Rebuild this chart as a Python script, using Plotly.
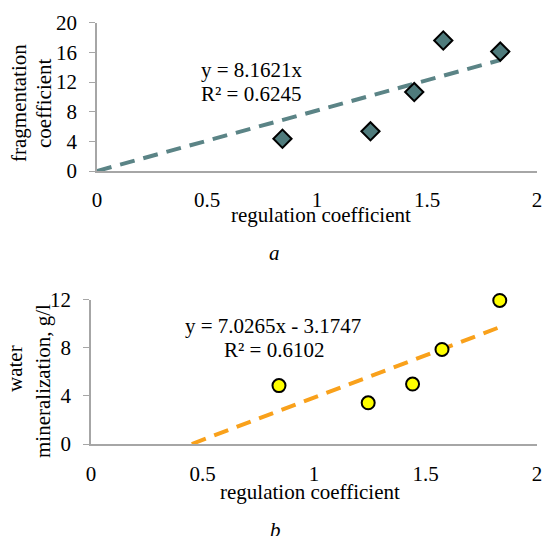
import plotly.graph_objects as go

W, H = 543, 536

# ---- data ----
reg_coef = [0.843, 1.243, 1.442, 1.574, 1.833]
frag_coef = [4.35, 5.35, 10.65, 17.6, 16.1]
mineral = [4.85, 3.42, 4.98, 7.85, 11.92]

slope_a = 8.1621
r2_a = 0.6245
slope_b = 7.0265
icpt_b = -3.1747
r2_b = 0.6102

x_ticks = [0, 0.5, 1, 1.5, 2]
x_ticklabels = ["0", "0.5", "1", "1.5", "2"]
ya_ticks = [0, 4, 8, 12, 16, 20]
yb_ticks = [0, 4, 8, 12]

FONT = "Liberation Serif, Times New Roman, serif"
FS = 21
AXC = "#A6A6A6"
TEAL = "#4F7B7C"
TEAL_LINE = "#5B8486"
ORANGE = "#F9A11B"


def px(x):
    return x / W


def py(y):
    return 1 - y / H


fig = go.Figure()

# trend lines
xa_max = max(reg_coef)
fig.add_trace(go.Scatter(
    x=[0, xa_max], y=[0, slope_a * xa_max], mode="lines",
    line=dict(color=TEAL_LINE, width=4, dash="15px,9px"),
    xaxis="x", yaxis="y", showlegend=False, hoverinfo="skip", cliponaxis=False))
fig.add_trace(go.Scatter(
    x=reg_coef, y=frag_coef, mode="markers",
    marker=dict(symbol="diamond", size=14, color=TEAL,
                line=dict(color="black", width=2)),
    xaxis="x", yaxis="y", showlegend=False, cliponaxis=False))

x0b = -icpt_b / slope_b
fig.add_trace(go.Scatter(
    x=[x0b, xa_max], y=[0, slope_b * xa_max + icpt_b], mode="lines",
    line=dict(color=ORANGE, width=4, dash="15px,9px"),
    xaxis="x2", yaxis="y2", showlegend=False, hoverinfo="skip", cliponaxis=False))
fig.add_trace(go.Scatter(
    x=reg_coef, y=mineral, mode="markers",
    marker=dict(symbol="circle", size=13, color="#FFFF00",
                line=dict(color="black", width=2)),
    xaxis="x2", yaxis="y2", showlegend=False, cliponaxis=False))

axis_common = dict(
    showgrid=False, zeroline=False, showline=True, linecolor=AXC, linewidth=1.5,
    tickfont=dict(family=FONT, size=FS, color="black"), automargin=False,
)

fig.update_layout(
    width=W, height=H, margin=dict(l=0, r=0, t=0, b=0, autoexpand=False),
    paper_bgcolor="white", plot_bgcolor="white",
    font=dict(family=FONT, size=FS, color="black"),
    xaxis=dict(domain=[px(97), px(537)], range=[0, 2], tickvals=x_ticks,
               ticktext=x_ticklabels, ticks="", ticklabelstandoff=9,
               anchor="y", **axis_common),
    yaxis=dict(domain=[py(171), py(22.7)], range=[0, 20], tickvals=ya_ticks,
               ticks="outside", ticklen=6, tickcolor=AXC, ticklabelstandoff=8,
               anchor="x", **axis_common),
    xaxis2=dict(domain=[px(91), px(537)], range=[0, 2], tickvals=x_ticks,
                ticktext=x_ticklabels, ticks="", ticklabelstandoff=10,
                anchor="y2", **axis_common),
    yaxis2=dict(domain=[py(444), py(299.5)], range=[0, 12], tickvals=yb_ticks,
                ticks="outside", ticklen=6, tickcolor=AXC, ticklabelstandoff=8,
                anchor="x2", **axis_common),
)

ann = []
# equations
ann.append(dict(xref="x", yref="y", x=0.464, y=13.6, xanchor="left", yanchor="middle",
                text=f"y = {slope_a:.4f}x", showarrow=False))
ann.append(dict(xref="x", yref="y", x=0.464, y=10.4, xanchor="left", yanchor="middle",
                text=f"R² = {r2_a:.4f}", showarrow=False))
ann.append(dict(xref="x2", yref="y2", x=0.816, y=9.78, xanchor="center", yanchor="middle",
                text=f"y = {slope_b:.4f}x - {abs(icpt_b):.4f}", showarrow=False))
ann.append(dict(xref="x2", yref="y2", x=0.82, y=7.83, xanchor="center", yanchor="middle",
                text=f"R² = {r2_b:.4f}", showarrow=False))
# axis titles
ann.append(dict(xref="paper", yref="paper", x=px(320.7), y=py(215), text="regulation coefficient",
                showarrow=False, xanchor="center", yanchor="middle"))
ann.append(dict(xref="paper", yref="paper", x=px(309.6), y=py(491.7), text="regulation coefficient",
                showarrow=False, xanchor="center", yanchor="middle"))
ann.append(dict(xref="paper", yref="paper", x=px(19), y=py(103), text="fragmentation",
                textangle=-90, showarrow=False, xanchor="center", yanchor="middle"))
ann.append(dict(xref="paper", yref="paper", x=px(44), y=py(103), text="coefficient",
                textangle=-90, showarrow=False, xanchor="center", yanchor="middle"))
ann.append(dict(xref="paper", yref="paper", x=px(15), y=py(369), text="water",
                textangle=-90, showarrow=False, xanchor="center", yanchor="middle"))
ann.append(dict(xref="paper", yref="paper", x=px(43), y=py(381), text="mineralization, g/l",
                textangle=-90, showarrow=False, xanchor="center", yanchor="middle"))
# panel letters
ann.append(dict(xref="paper", yref="paper", x=px(274), y=py(253), text="<i>a</i>",
                showarrow=False, xanchor="center", yanchor="middle"))
ann.append(dict(xref="paper", yref="paper", x=px(275), y=py(530), text="<i>b</i>",
                showarrow=False, xanchor="center", yanchor="middle"))
fig.update_layout(annotations=ann)

fig.write_html("out.html", config={"displayModeBar": False},
               post_script="document.body.style.margin='0px';document.body.style.overflow='hidden';")
